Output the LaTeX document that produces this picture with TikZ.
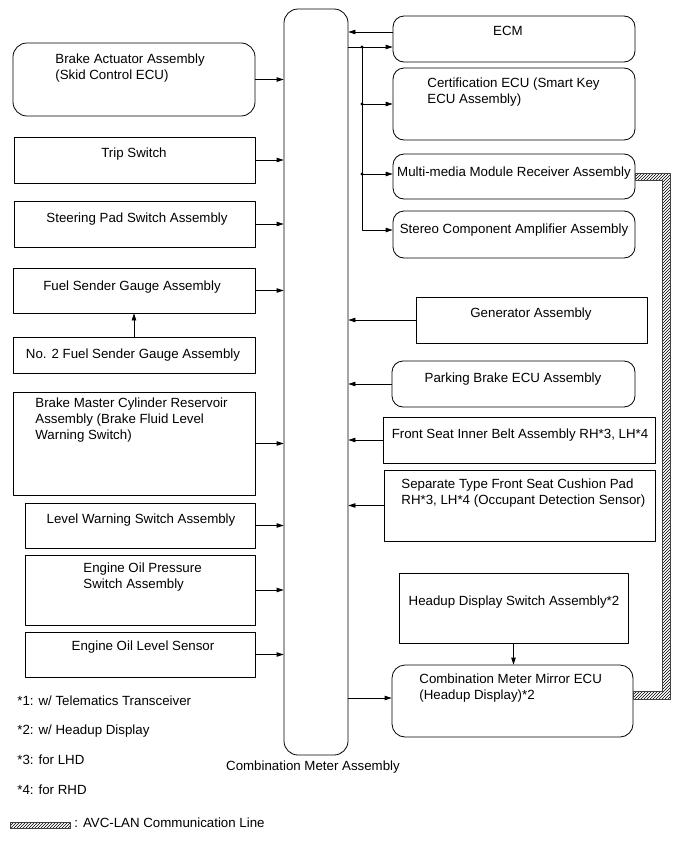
\documentclass[tikz,border=0pt]{standalone}
\usepackage{fontspec}
\setmainfont{Liberation Sans}
\usepackage{tikz}
\usetikzlibrary{arrows.meta,fit,calc,patterns}

\tikzset{
  box/.style={draw, line width=0.8pt, inner sep=0pt},
  rbox/.style={box, rounded corners=11pt},
  txt/.style={font=\fontsize{13.3}{16}\selectfont, inner sep=0pt, align=left},
  lan/.style={draw=black!75, line width=0.5pt, pattern=north east lines},
}

\begin{document}
\begin{tikzpicture}[x=1pt, y=-1pt, line join=round, line width=0.8pt, >={Triangle[length=7pt,width=4.5pt]}]
\useasboundingbox (0,0) rectangle (690,854);

% combination meter
\node (meter) [rbox, rounded corners=14pt, fit={(284,9) (348,755)}] {};
\node (t_meter) at (313,768) [txt, anchor=mid] {Combination Meter Assembly};

% left column
\node (brakeact) [rbox, rounded corners=14pt, fit={(13,43) (255,116)}] {};
\node (trip) [box, fit={(14,137) (255,183)}] {};
\node (steer) [box, fit={(14,201) (255,247)}] {};
\node (fuel) [box, fit={(13,268) (255,313)}] {};
\node (fuel2) [box, fit={(13,337) (255,373)}] {};
\node (brakemst) [box, fit={(13,392) (255,495)}] {};
\node (level) [box, fit={(25,503) (255,548)}] {};
\node (oilpress) [box, fit={(25,555) (255,625)}] {};
\node (oillevel) [box, fit={(25,632) (255,677)}] {};

\node (t_brakeact) at (55,53) [txt, anchor=north west] {Brake Actuator Assembly\\(Skid Control ECU)};
\node (t_trip) at (134,147) [txt, anchor=north] {Trip Switch};
\node (t_steer) at (137,212) [txt, anchor=north] {Steering Pad Switch Assembly};
\node (t_fuel) at (132,280) [txt, anchor=north] {Fuel Sender Gauge Assembly};
\node (t_fuel2) at (133,348) [txt, anchor=north] {No. 2 Fuel Sender Gauge Assembly};
\node (t_brakemst) at (35,397) [txt, anchor=north west] {Brake Master Cylinder Reservoir\\Assembly (Brake Fluid Level\\Warning Switch)};
\node (t_level) at (141,513) [txt, anchor=north] {Level Warning Switch Assembly};
\node (t_oilpress) at (83,562) [txt, anchor=north west] {Engine Oil Pressure\\Switch Assembly};
\node (t_oillevel) at (143,640) [txt, anchor=north] {Engine Oil Level Sensor};

% right column
\node (ecm) [rbox, fit={(393,16) (635,62)}] {};
\node (cert) [rbox, fit={(393,68) (635,140)}] {};
\node (mm) [rbox, fit={(393,154) (635,199)}] {};
\node (stereo) [rbox, fit={(393,211) (635,258)}] {};
\node (gen) [box, fit={(416,297) (647,343)}] {};
\node (park) [rbox, fit={(392,361) (635,407)}] {};
\node (belt) [box, fit={(383,417) (655,463)}] {};
\node (cushion) [box, fit={(384,470) (655,541)}] {};
\node (hudsw) [box, fit={(399,573) (628,643)}] {};
\node (mirror) [rbox, rounded corners=13pt, fit={(392,665) (633,737)}] {};

\node (t_ecm) at (508,26) [txt, anchor=north] {ECM};
\node (t_cert) at (427,77) [txt, anchor=north west] {Certification ECU (Smart Key\\ECU Assembly)};
\node (t_mm) at (514,166) [txt, anchor=north] {Multi-media Module Receiver Assembly};
\node (t_stereo) at (514,223) [txt, anchor=north] {Stereo Component Amplifier Assembly};
\node (t_gen) at (531,307) [txt, anchor=north] {Generator Assembly};
\node (t_park) at (513,372) [txt, anchor=north] {Parking Brake ECU Assembly};
\node (t_belt) at (520,428) [txt, anchor=north] {Front Seat Inner Belt Assembly RH*3, LH*4};
\node (t_cushion) at (401,478) [txt, anchor=north west] {Separate Type Front Seat Cushion Pad\\RH*3, LH*4 (Occupant Detection Sensor)};
\node (t_hudsw) at (514,595) [txt, anchor=north] {Headup Display Switch Assembly*2};
\node (t_mirror) at (419,673) [txt, anchor=north west] {Combination Meter Mirror ECU\\(Headup Display)*2};

% inputs to the meter
\foreach \src in {brakeact,trip,steer,fuel,brakemst,level,oilpress,oillevel}
  \draw[->] (\src) -- (\src -| meter.west);
\draw[->] (fuel2) -- (fuel2 |- fuel.south);

\coordinate (ecmin) at ([yshift=7pt]ecm.west);
\coordinate (ecmout) at ([yshift=-8pt]ecm.west);
\coordinate (mmin) at ([yshift=2.5pt]mm.west);
\coordinate (stin) at ([yshift=4.5pt]stereo.west);
\coordinate (bus) at (362,0);
\draw[->] (ecmin) -- (ecmin -| meter.east);
\draw[->] (ecmout -| meter.east) -- (ecmout);
\draw[->] (bus |- ecmout) -- (bus |- stin) -- (stin);
\draw[->] (bus |- cert.west) -- (cert.west);
\draw[->] (bus |- mmin) -- (mmin);
\foreach \dst in {ecmout,cert,mmin}
  \fill (bus |- \dst) circle (1.7pt);

\foreach \src in {gen,park,belt,cushion}
  \draw[->] (\src) -- (\src -| meter.east);
\draw[->] ([yshift=3pt]mirror.west -| meter.east) -- ([yshift=3pt]mirror.west);
\draw[->] (hudsw) -- (hudsw |- mirror.north);

% AVC-LAN
\path (mm.east) ++(0,-3.5) coordinate (l1) ++(0,7) coordinate (l2);
\path (mirror.east) ++(0,-10) coordinate (l3) ++(0,8) coordinate (l4);
\coordinate (lo) at (670,0);
\coordinate (li) at (662,0);
\draw[lan] (l1) -- (l1 -| lo) -- (l4 -| lo) -- (l4) -- (l3) -- (l3 -| li) -- (l2 -| li) -- (l2) -- cycle;

% notes
\node (n1) at (17,703) [txt, anchor=mid west] {*1: w/ Telematics Transceiver};
\node (n2) at (17,732) [txt, anchor=mid west] {*2: w/ Headup Display};
\node (n3) at (17,762) [txt, anchor=mid west] {*3: for LHD};
\node (n4) at (17,792) [txt, anchor=mid west] {*4: for RHD};
\node (lankey) [lan, inner sep=0pt, fit={(10,822) (70,828)}] {};
\node (t_lan) at (74,825) [txt, anchor=mid west] {: AVC-LAN Communication Line};

\end{tikzpicture}
\end{document}
